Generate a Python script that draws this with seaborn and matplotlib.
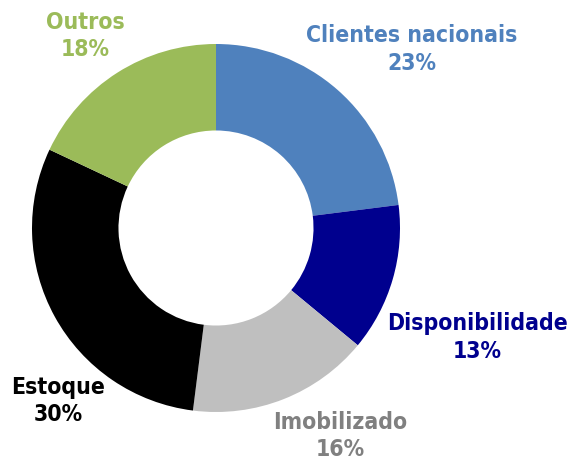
import matplotlib
matplotlib.use("Agg")
import matplotlib.pyplot as plt
import seaborn as sns

# data (clockwise from 12 o'clock)
categories = ["Clientes nacionais", "Disponibilidade", "Imobilizado", "Estoque", "Outros"]
shares = [23, 13, 16, 30, 18]
wedge_colors = ["#4F81BD", "#00008E", "#BFBFBF", "#000000", "#9BBB59"]
label_colors = ["#4F81BD", "#00008E", "#808080", "#000000", "#9BBB59"]

# label placement in radius units, relative to the centre
label_pos = [(1.065, 0.975), (1.42, -0.59), (0.675, -1.125), (-0.86, -0.935), (-0.71, 1.05)]

sns.set_theme(style="white")
plt.rcParams["font.family"] = ["DejaVu Sans"]

fig = plt.figure(figsize=(5.71, 4.64), dpi=100)
ax = fig.add_axes([32 / 571, 51 / 464, 368 / 571, 368 / 464])

ax.pie(shares, colors=wedge_colors, startangle=90, counterclock=False,
       radius=1.0, wedgeprops=dict(width=0.47, edgecolor="none"))

for name, val, col, (x, y) in zip(categories, shares, label_colors, label_pos):
    ax.text(x, y, f"{name}\n{val}%", ha="center", va="center", color=col,
            fontsize=16.5, fontweight="heavy", fontstretch="condensed",
            linespacing=1.25, clip_on=False)

ax.set_xlim(-1, 1)
ax.set_ylim(-1, 1)
ax.set_aspect("equal")
ax.axis("off")

fig.savefig("out.png", dpi=100, facecolor="white")
